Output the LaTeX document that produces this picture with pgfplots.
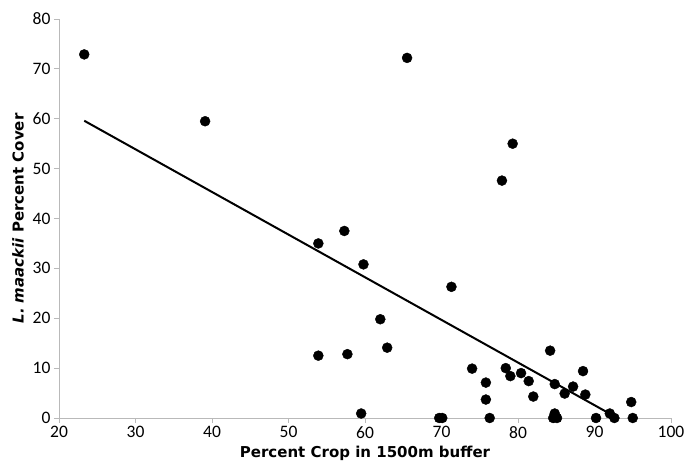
\documentclass[border=0pt]{standalone}
\usepackage{fontspec}
\setmainfont{DejaVu Sans}
\newfontfamily\tickfont{Carlito}
\usepackage{pgfplots}
\pgfplotsset{compat=1.18}
\usetikzlibrary{calc}

\pgfplotstableread{
x y
23.3 72.9
39.1 59.5
65.5 72.2
79.3 55.0
77.9 47.6
53.9 35.0
57.3 37.5
59.8 30.8
71.3 26.3
62.0 19.8
62.9 14.1
53.9 12.5
57.7 12.8
59.5 0.9
69.7 0.0
70.1 0.0
74.0 9.9
75.8 7.1
75.8 3.7
76.3 0.0
78.4 10.0
79.0 8.4
80.4 9.0
81.4 7.4
82.0 4.3
84.2 13.5
84.8 6.8
84.8 0.9
84.6 0.0
85.1 0.0
86.1 4.9
87.2 6.3
88.5 9.4
88.8 4.7
90.2 0.0
92.0 0.9
92.6 0.0
94.8 3.2
95.0 0.0
}\points

\begin{document}
\begin{tikzpicture}
\begin{axis}[
    scale only axis,
    width=612pt,
    height=399pt,
    xmin=20, xmax=100,
    ymin=0, ymax=80,
    xtick={20,30,...,100},
    ytick={0,10,...,80},
    axis x line*=bottom,
    axis y line*=left,
    axis line style={color=gray!55, line width=0.8pt},
    tick style={color=gray!55, line width=0.8pt},
    tick align=outside,
    major tick length=5pt,
    ticklabel style={font=\tickfont\fontsize{17.5}{17.5}\selectfont, text=black},
    /pgf/number format/assume math mode=true,
    label style={font=\fontsize{15}{18}\selectfont\bfseries},
    xlabel={Percent Crop in 1500m buffer},
    ylabel={\itshape L. maackii\upshape\ Percent Cover},
    xlabel style={yshift=-1pt},
    ylabel style={yshift=2pt},
]
\addplot[only marks, mark=*, mark size=5pt, black] table[x=x, y=y] {\points};
\addplot[black, line width=2pt] coordinates {(23.3,59.6) (92.3,0.6)};
\end{axis}
\pgfresetboundingbox
\path ($(current axis.south west)+(-59pt,-50pt)$) rectangle ($(current axis.north east)+(14pt,19pt)$);
\end{tikzpicture}
\end{document}
